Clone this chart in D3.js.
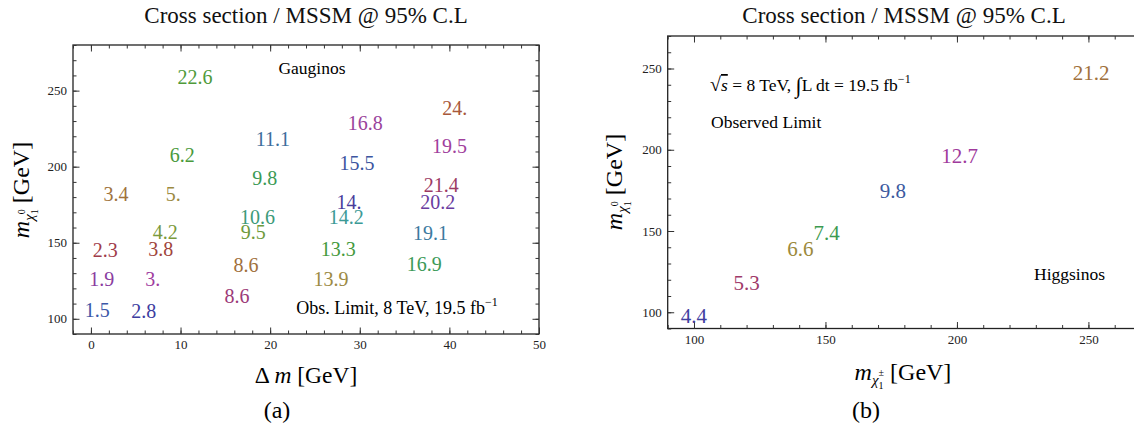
<!DOCTYPE html>
<html>
<head>
<meta charset="utf-8">
<script src="https://cdn.jsdelivr.net/npm/d3@7"></script>
<style>
  body { margin: 0; background: #fff; }
  svg { font-family: "Liberation Serif", "DejaVu Serif", serif; }
  .tick text { font-size: 13px; font-family: "Liberation Serif", serif; fill: #222; }
  .tick line { stroke: #333; }
</style>
</head>
<body>
<div id="chart"></div>
<script>
// (a) gauginos: delta m, neutralino mass, cross section ratio
var gauginoDm = [11.6, 20.3, 10.2, 19.4, 2.8, 9.2, 30.6, 40.6, 40.0, 29.7, 39.1, 28.8, 38.7,
                 0.7, 5.9, 1.2, 6.9, 1.6, 7.8, 8.3, 18.6, 18.1, 17.3, 16.3, 28.5, 27.6, 26.8, 37.9, 37.2];
var gauginoM = [258.8, 218.5, 207.9, 192.7, 182.1, 182.1, 229, 238.3, 213.9, 202.6, 188.1, 176.9, 176.9,
                105.5, 104.8, 126, 126, 145.1, 145.8, 157, 167, 157, 135.2, 114.7, 167, 145.8, 126, 156.4, 135.9];
var gauginoVal = [22.6, 11.1, 6.2, 9.8, 3.4, 5, 16.8, 24, 19.5, 15.5, 21.4, 14, 20.2,
                  1.5, 2.8, 1.9, 3, 2.3, 3.8, 4.2, 10.6, 9.5, 8.6, 8.6, 14.2, 13.3, 13.9, 19.1, 16.9];
var gauginoColor = ["#4f9a3a", "#3d6e9c", "#4a9a3c", "#3c9a55", "#a0733c", "#9c8a40", "#9a449c", "#a8583a",
                    "#a0409c", "#3c55a0", "#9c3a64", "#4a3c9c", "#6a3ca0",
                    "#3c58a8", "#3c3ca0", "#8a3ca0", "#a03ca0", "#a03c4a", "#a0453c", "#7a9a3c", "#3c9a78",
                    "#6e9a3c", "#a0703c", "#9c3a78", "#3c9a96", "#449a3c", "#9c8a44", "#3c7aa0", "#3c9a58"];

// (b) higgsinos: chargino mass, neutralino mass, cross section ratio
var higgsChargino = [100, 120, 140.5, 150.4, 175.6, 201, 251];
var higgsNeutralino = [98, 118, 139, 149, 174.6, 196.5, 247.7];
var higgsVal = [4.4, 5.3, 6.6, 7.4, 9.8, 12.7, 21.2];
var higgsColor = ["#4040a0", "#a03a6a", "#9c8a3c", "#3c9a50", "#3c5aa0", "#a03a9c", "#a0703c"];

var fmt = function(v) { return Number.isInteger(v) ? v + "." : String(v); };

var width = 1134, height = 428;
var svg = d3.select("#chart").append("svg").attr("width", width).attr("height", height);

// frame with inward ticks on all four sides, like Mathematica's Frame
function drawFrame(g, x, y, xMajor, xMinor, yMajor, yMinor) {
  var x0 = x.range()[0], x1 = x.range()[1], y0 = y.range()[0], y1 = y.range()[1];
  g.append("rect").attr("x", x0).attr("y", y1).attr("width", x1 - x0).attr("height", y0 - y1)
    .attr("fill", "none").attr("stroke", "#222").attr("stroke-width", 1.3);
  var mk = function(axis, tr, vals, size, labels) {
    var a = axis.tickValues(vals).tickSize(-size).tickSizeOuter(0).tickPadding(6);
    if (!labels) a.tickFormat("");
    var s = g.append("g").attr("transform", tr).call(a);
    s.select(".domain").remove();
  };
  mk(d3.axisBottom(x), "translate(0," + y0 + ")", xMinor, 3.5, false);
  mk(d3.axisBottom(x), "translate(0," + y0 + ")", xMajor, 6.5, true);
  mk(d3.axisTop(x), "translate(0," + y1 + ")", xMinor, 3.5, false);
  mk(d3.axisTop(x), "translate(0," + y1 + ")", xMajor, 6.5, false);
  mk(d3.axisLeft(y), "translate(" + x0 + ",0)", yMinor, 3.5, false);
  mk(d3.axisLeft(y), "translate(" + x0 + ",0)", yMajor, 6.5, true);
  mk(d3.axisRight(y), "translate(" + x1 + ",0)", yMinor, 3.5, false);
  mk(d3.axisRight(y), "translate(" + x1 + ",0)", yMajor, 6.5, false);
  g.selectAll(".tick text").attr("font-size", 13).attr("font-family", "Liberation Serif");
}

function title(t, cx) {
  svg.append("text").attr("x", cx).attr("y", 23).attr("text-anchor", "middle")
    .attr("font-size", 23).attr("fill", "#111").text(t);
}

// massLabel: m with chi subscript, sub/sup stacked
function massLabel(sel, supTxt) {
  sel.append("tspan").attr("font-style", "italic").text("m");
  sel.append("tspan").attr("font-style", "italic").attr("font-size", 15).attr("dy", 5).text("\u03c7");
  sel.append("tspan").attr("font-size", 10).attr("dy", 4).text("1");
  sel.append("tspan").attr("font-size", 10).attr("dx", -5).attr("dy", -13).text(supTxt);
  sel.append("tspan").attr("dy", 4).text(" [GeV]");
}

// ---------- panel (a)
var xa = d3.scaleLinear().domain([-2, 50]).range([73, 539]);
var ya = d3.scaleLinear().domain([90, 280]).range([334, 45]);
var ga = svg.append("g");
drawFrame(ga, xa, ya, d3.range(0, 51, 10), d3.range(-2, 51, 2), d3.range(100, 251, 50), d3.range(90, 281, 10));
title("Cross section / MSSM @ 95% C.L", 306);

ga.selectAll("text.val").data(gauginoVal).enter().append("text").attr("class", "val")
  .attr("x", function(d, i) { return xa(gauginoDm[i]); })
  .attr("y", function(d, i) { return ya(gauginoM[i]); })
  .attr("dy", "0.35em").attr("text-anchor", "middle").attr("font-size", 20)
  .attr("fill", function(d, i) { return gauginoColor[i]; })
  .text(fmt);

ga.append("text").attr("x", 312).attr("y", 74).attr("text-anchor", "middle").attr("font-size", 17.5).text("Gauginos");
var obs = ga.append("text").attr("x", 397).attr("y", 314).attr("text-anchor", "middle").attr("font-size", 18);
obs.append("tspan").text("Obs. Limit, 8 TeV, 19.5 fb");
obs.append("tspan").attr("font-size", 12).attr("dy", -8).text("\u22121");

var xla = ga.append("text").attr("x", 306).attr("y", 383).attr("text-anchor", "middle").attr("font-size", 23.5);
xla.append("tspan").text("\u0394 ");
xla.append("tspan").attr("font-style", "italic").text("m");
xla.append("tspan").text(" [GeV]");
ga.append("text").attr("x", 277).attr("y", 418).attr("text-anchor", "middle").attr("font-size", 24).text("(a)");

var yla = ga.append("text").attr("transform", "translate(29,190) rotate(-90)")
  .attr("text-anchor", "middle").attr("font-size", 24);
massLabel(yla, "0");

// ---------- panel (b)
var xb = d3.scaleLinear().domain([90, 270]).range([667.7, 1141]);
var yb = d3.scaleLinear().domain([90, 270]).range([328.5, 36]);
var gb = svg.append("g");
drawFrame(gb, xb, yb, d3.range(100, 251, 50), d3.range(90, 271, 10), d3.range(100, 251, 50), d3.range(90, 271, 10));
title("Cross section / MSSM @ 95% C.L", 904);

gb.selectAll("text.val").data(higgsVal).enter().append("text").attr("class", "val")
  .attr("x", function(d, i) { return xb(higgsChargino[i]); })
  .attr("y", function(d, i) { return yb(higgsNeutralino[i]); })
  .attr("dy", "0.35em").attr("text-anchor", "middle").attr("font-size", 21)
  .attr("fill", function(d, i) { return higgsColor[i]; })
  .text(fmt);

var lum = gb.append("text").attr("x", 710).attr("y", 91).attr("font-size", 17.5);
lum.append("tspan").attr("font-size", 20).text("\u221a");
lum.append("tspan").attr("font-style", "italic").attr("text-decoration", "overline").text("s");
lum.append("tspan").text(" = 8 TeV, ");
lum.append("tspan").attr("font-size", 22).attr("dy", 2).text("\u222b");
lum.append("tspan").attr("dy", -2).text("L dt = 19.5 fb");
lum.append("tspan").attr("font-size", 12).attr("dy", -8).text("\u22121");
gb.append("text").attr("x", 711).attr("y", 128).attr("font-size", 17.5).text("Observed Limit");
gb.append("text").attr("x", 1034).attr("y", 280).attr("font-size", 17.5).text("Higgsinos");

var xlb = gb.append("text").attr("x", 903).attr("y", 380).attr("text-anchor", "middle").attr("font-size", 24);
massLabel(xlb, "\u00b1");
gb.append("text").attr("x", 866).attr("y", 418).attr("text-anchor", "middle").attr("font-size", 24).text("(b)");

var ylb = gb.append("text").attr("transform", "translate(622,182) rotate(-90)")
  .attr("text-anchor", "middle").attr("font-size", 24);
massLabel(ylb, "0");
</script>
</body>
</html>
